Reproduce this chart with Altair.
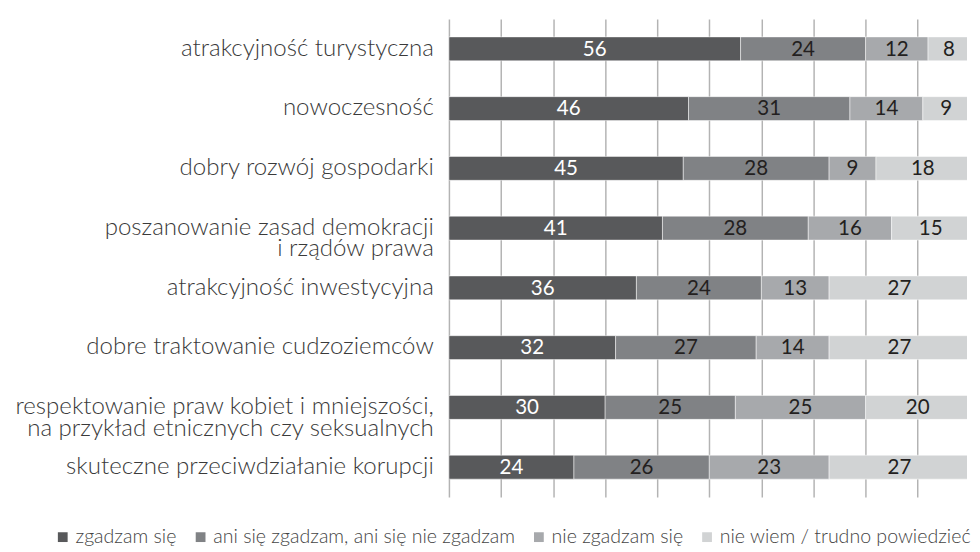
import altair as alt
import pandas as pd

categories = [
    "atrakcyjność turystyczna",
    "nowoczesność",
    "dobry rozwój gospodarki",
    "poszanowanie zasad demokracji\ni rządów prawa",
    "atrakcyjność inwestycyjna",
    "dobre traktowanie cudzoziemców",
    "respektowanie praw kobiet i mniejszości,\nna przykład etnicznych czy seksualnych",
    "skuteczne przeciwdziałanie korupcji",
]
series = [
    "zgadzam się",
    "ani się zgadzam, ani się nie zgadzam",
    "nie zgadzam się",
    "nie wiem / trudno powiedzieć",
]
zgadzam = [56, 46, 45, 41, 36, 32, 30, 24]
ani = [24, 31, 28, 28, 24, 27, 25, 26]
nie = [12, 14, 9, 16, 13, 14, 25, 23]
nie_wiem = [8, 9, 18, 15, 27, 27, 20, 27]
grid_values = [0, 10, 20, 30, 40, 50, 60, 70, 80, 90]

colors = ["#58595b", "#808285", "#a7a9ac", "#d1d3d4"]
FONT = "Lato"

rows = []
for s_idx, vals in enumerate([zgadzam, ani, nie, nie_wiem]):
    for c_idx, v in enumerate(vals):
        rows.append({"cat": categories[c_idx], "series": series[s_idx],
                     "s_idx": s_idx, "value": v})
df = pd.DataFrame(rows)

base = alt.Chart(df).transform_stack(
    stack="value", groupby=["cat"], as_=["x0", "x1"],
    sort=[alt.SortField("s_idx", order="ascending")],
).transform_calculate(mid="(datum.x0 + datum.x1) / 2")

y_enc = alt.Y(
    "cat:N", sort=categories, title=None,
    scale=alt.Scale(paddingInner=0.6, paddingOuter=0.3),
    axis=alt.Axis(
        labelExpr="split(datum.label, '\\n')",
        labelFont=FONT, labelFontSize=24.6, labelFontWeight=300,
        labelColor="#3a3a3a", labelPadding=16, labelLimit=0,
        labelLineHeight=22, ticks=False, domain=False, grid=False,
    ),
)

bars = base.mark_bar(clip=True, stroke="white", strokeWidth=0.5).encode(
    x=alt.X(
        "x0:Q", title=None,
        scale=alt.Scale(domain=[0, 99.5], nice=False, zero=True),
        axis=alt.Axis(values=grid_values, grid=True, labels=False,
                      ticks=False, domain=False, gridColor="#b3b3b3",
                      gridWidth=1.5),
    ),
    x2="x1:Q",
    y=y_enc,
    color=alt.Color(
        "series:N", sort=series,
        scale=alt.Scale(domain=series, range=colors),
        legend=alt.Legend(
            orient="none", legendX=-405, legendY=520, direction="horizontal",
            title=None, symbolType="square", symbolSize=100,
            symbolStrokeWidth=0, labelFont=FONT, labelFontSize=20,
            labelFontWeight=300, labelColor="#444444", columnPadding=14,
            labelOffset=3, labelLimit=0,
        ),
    ),
    order=alt.Order("s_idx:Q"),
)

labels = base.mark_text(font=FONT, fontSize=21, baseline="middle", dy=1).encode(
    x=alt.X("mid:Q"),
    y=alt.Y("cat:N", sort=categories),
    text=alt.Text("value:Q"),
    color=alt.condition("datum.s_idx == 0", alt.value("white"), alt.value("#231f20")),
)

chart = (bars + labels).properties(
    width=530, height=489,
    padding={"left": 6, "top": 5, "right": 0, "bottom": 0},
).configure_view(stroke=None)

chart.save("out.html", embed_options={"renderer": "svg", "actions": False})
